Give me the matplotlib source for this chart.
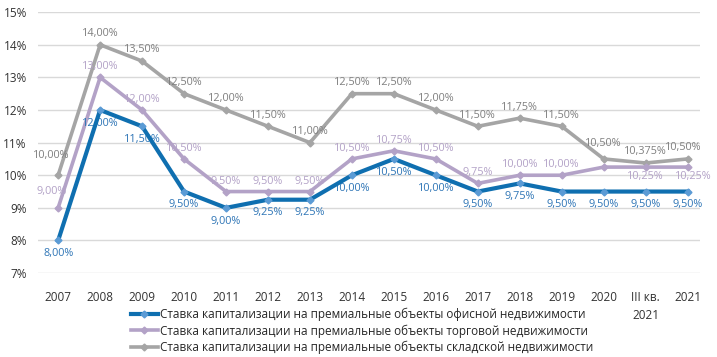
import numpy as np
import matplotlib.pyplot as plt

plt.rcParams['font.family'] = ['Open Sans', 'DejaVu Sans']

years = ['2007', '2008', '2009', '2010', '2011', '2012', '2013', '2014', '2015',
         '2016', '2017', '2018', '2019', '2020', 'III кв.\n2021', '2021']
office = [8.0, 12.0, 11.5, 9.5, 9.0, 9.25, 9.25, 10.0, 10.5, 10.0, 9.5, 9.75, 9.5, 9.5, 9.5, 9.5]
retail = [9.0, 13.0, 12.0, 10.5, 9.5, 9.5, 9.5, 10.5, 10.75, 10.5, 9.75, 10.0, 10.0, 10.25, 10.25, 10.25]
warehouse = [10.0, 14.0, 13.5, 12.5, 12.0, 11.5, 11.0, 12.5, 12.5, 12.0, 11.5, 11.75, 11.5, 10.5, 10.375, 10.5]
names = ['Ставка капитализации на премиальные объекты офисной недвижимости',
         'Ставка капитализации на премиальные объекты торговой недвижимости',
         'Ставка капитализации на премиальные объекты складской недвижимости']

def fmt(v):
    s = ('%.3f' % v).rstrip('0')
    if len(s.split('.')[1]) < 2:
        s = '%.2f' % v
    return s.replace('.', ',') + '%'

fig = plt.figure(figsize=(7.17, 3.57), dpi=100)
ax = fig.add_axes([0.053, 0.235, 0.923, 0.731])
x = np.arange(len(years))

ax.plot(x, warehouse, color='#A5A5A5', lw=2.6, marker='D', ms=3.5,
        mfc='#A5A5A5', mec='#A5A5A5', label=names[2], zorder=3)
ax.plot(x, retail, color='#B3A2C7', lw=2.6, marker='D', ms=3.5,
        mfc='#B3A2C7', mec='#B3A2C7', label=names[1], zorder=3)
ax.plot(x, office, color='#0F6FB0', lw=3, marker='D', ms=3.5,
        mfc='#5B9BD5', mec='#5B9BD5', label=names[0], zorder=4)

fs = 7.8
# office labels below
for i, v in enumerate(office):
    ax.annotate(fmt(v), (x[i], v), xytext=(0, -9.5), textcoords='offset points',
                ha='center', va='center', fontsize=fs, color='#2E75B6')
# retail labels
for i, v in enumerate(retail):
    if i == 13:
        continue
    dx, dy = 0, 7.5
    if i == 0:
        dx, dy = -5, 12
    if i in (14, 15):
        dy = -7
    if i == 15:
        dx = 4
    ax.annotate(fmt(v), (x[i], v), xytext=(dx, dy), textcoords='offset points',
                ha='center', va='center', fontsize=fs, color='#B3A2C7')
# warehouse labels
for i, v in enumerate(warehouse):
    dx, dy = 0, 8
    if i == 0:
        dx, dy = -5, 14
    if i == 13:
        dy = 11
    if i == 15:
        dx = -3
    ax.annotate(fmt(v), (x[i], v), xytext=(dx, dy), textcoords='offset points',
                ha='center', va='center', fontsize=fs, color='#7F7F7F')

ax.set_ylim(7, 15)
ax.set_xlim(-0.48, 15.29)
ax.set_yticks(range(7, 16))
ax.set_yticklabels(['%d%%' % t for t in range(7, 16)])
ax.set_xticks(x)
ax.set_xticklabels(years, linespacing=1.5)
ax.tick_params(axis='both', length=0, labelsize=8.5, colors='#333333')
ax.tick_params(axis='x', pad=13)
ax.tick_params(axis='y', pad=8)
ax.grid(axis='y', color='#D9D9D9', lw=1)
ax.set_axisbelow(True)
for s in ax.spines.values():
    s.set_visible(False)

h, l = ax.get_legend_handles_labels()
fig.legend(h[::-1], l[::-1], loc='lower center', bbox_to_anchor=(0.505, -0.022),
           frameon=False, fontsize=8.5, handlelength=2.3, handletextpad=0.2,
           labelspacing=0.28, labelcolor='#262626')

fig.savefig('out.png', dpi=100)
